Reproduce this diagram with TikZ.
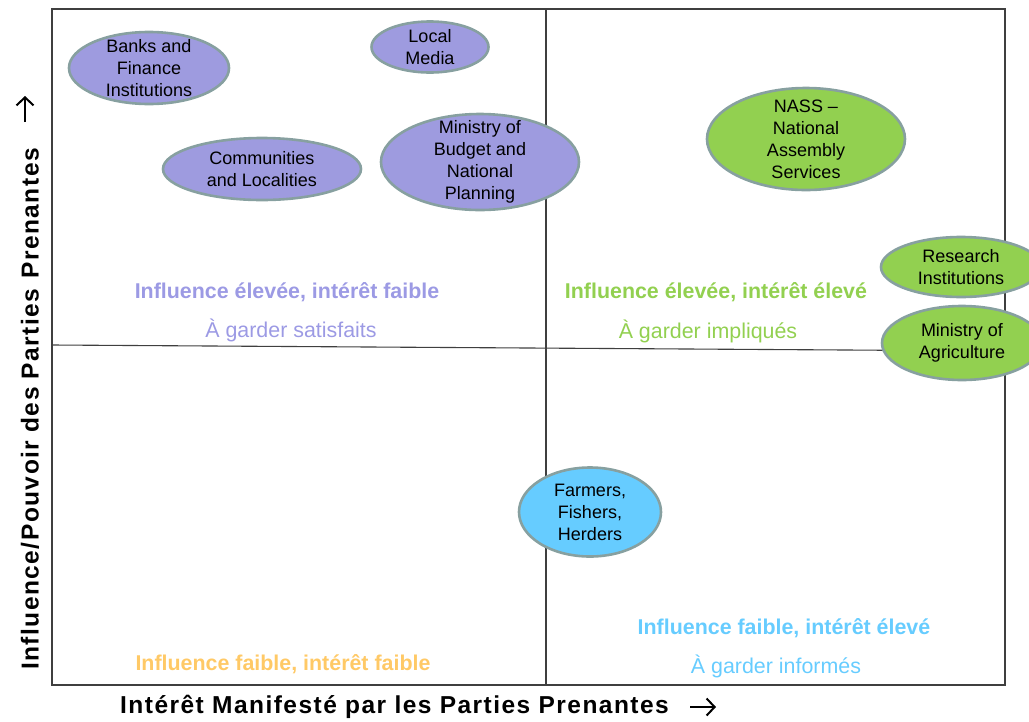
\documentclass[tikz,border=0pt]{standalone}
\usepackage{fontspec}
\setmainfont{Liberation Sans}
\usetikzlibrary{shapes.geometric, arrows.meta}

\definecolor{frameline}{HTML}{3F3F3F}
\definecolor{rimcol}{HTML}{87A0A0}
\definecolor{purplefill}{HTML}{9E9BDF}
\definecolor{greenfill}{HTML}{92D050}
\definecolor{bluefill}{HTML}{66CCFF}
\definecolor{purpletext}{HTML}{9C9AE4}
\definecolor{greentext}{HTML}{92D050}
\definecolor{bluetext}{HTML}{66CCFF}
\definecolor{orangetext}{HTML}{FFC966}

\tikzset{
  frame/.style={draw=frameline, line width=1.1pt},
  stake/.style={ellipse, draw=rimcol, line width=2.6pt, inner sep=0pt},
  staketext/.style={align=center, inner sep=0pt, text=black,
    font=\fontsize{18}{22}\selectfont},
  quadtitle/.style={inner sep=0pt, font=\fontsize{21.4}{24}\selectfont\bfseries},
  quadsub/.style={inner sep=0pt, font=\fontsize{21.4}{24}\selectfont},
  axislabel/.style={inner sep=0pt, text=black,
    font=\fontsize{24.5}{26}\selectfont\bfseries\addfontfeature{LetterSpace=6}},
  axisarrow/.style={line width=2pt, -{Straight Barb[length=8pt, width=17pt, line width=2pt]}},
}

\begin{document}
\begin{tikzpicture}[x=1pt, y=-1pt]
  \useasboundingbox (0,0) rectangle (1029,721);
  \clip (0,0) rectangle (1029,721);

  % frame and quadrant dividers
  \coordinate (vtop) at (546,9);
  \coordinate (vbot) at (546,685);
  \coordinate (hleft) at (52,345);
  \coordinate (hright) at (1005,351);
  \draw[frame] (52,9) rectangle (1005,685);
  \draw[frame] (vtop) -- (vbot);
  \draw[frame] (hleft) -- (hright);

  % quadrant captions
  \node[quadtitle, text=purpletext] (q1t) at (287,292) {Influence élevée, intérêt faible};
  \node[quadsub, text=purpletext] (q1s) at (291,330) {À garder satisfaits};
  \node[quadtitle, text=greentext] (q2t) at (716,292) {Influence élevée, intérêt élevé};
  \node[quadsub, text=greentext] (q2s) at (708,331) {À garder impliqués};
  \node[quadtitle, text=bluetext] (q4t) at (784,628) {Influence faible, intérêt élevé};
  \node[quadsub, text=bluetext] (q4s) at (776,666) {À garder informés};
  \node[quadtitle, text=orangetext] (q3t) at (283,664) {Influence faible, intérêt faible};

  % stakeholders
  \node[stake, fill=purplefill, minimum width=160pt, minimum height=72pt] (banks) at (149,68) {};
  \node[staketext] at (banks) {Banks and\\Finance\\Institutions};

  \node[stake, fill=purplefill, minimum width=117pt, minimum height=51pt] (media) at (430,47) {};
  \node[staketext] at (media) {Local\\Media};

  \node[stake, fill=purplefill, minimum width=198pt, minimum height=62pt] (comm) at (262,169) {};
  \node[staketext] at (comm) {Communities\\and Localities};

  \node[stake, fill=purplefill, minimum width=198pt, minimum height=96pt] (budget) at (480,162) {};
  \node[staketext] at (budget) {Ministry of\\Budget and\\National\\Planning};

  \node[stake, fill=greenfill, minimum width=198pt, minimum height=102pt] (nass) at (806,139) {};
  \node[staketext] at (nass) {NASS –\\National\\Assembly\\Services};

  \node[stake, fill=greenfill, minimum width=160pt, minimum height=60pt] (research) at (961,267) {};
  \node[staketext] at (research) {Research\\Institutions};

  \node[stake, fill=greenfill, minimum width=160pt, minimum height=74pt] (agri) at (962,343) {};
  \node[staketext] at (agri) {Ministry of\\Agriculture};

  \node[stake, fill=bluefill, minimum width=142pt, minimum height=89pt] (farmers) at (590,512) {};
  \node[staketext] at (farmers) {Farmers,\\Fishers,\\Herders};

  % axis titles with their arrows
  \node[axislabel, anchor=west] (xaxis) at (120,707) {Intérêt Manifesté par les Parties Prenantes};
  \coordinate (xarrowtail) at (690,707);
  \coordinate (xarrowhead) at (716,707);
  \draw[axisarrow] (xarrowtail) -- (xarrowhead);

  \node[axislabel, anchor=west, rotate=90] (yaxis) at (30,670) {Influence/Pouvoir des Parties\hspace{10pt}Prenantes};
  \coordinate (yarrowtail) at (25,122);
  \coordinate (yarrowhead) at (25,96);
  \draw[axisarrow] (yarrowtail) -- (yarrowhead);
\end{tikzpicture}
\end{document}
